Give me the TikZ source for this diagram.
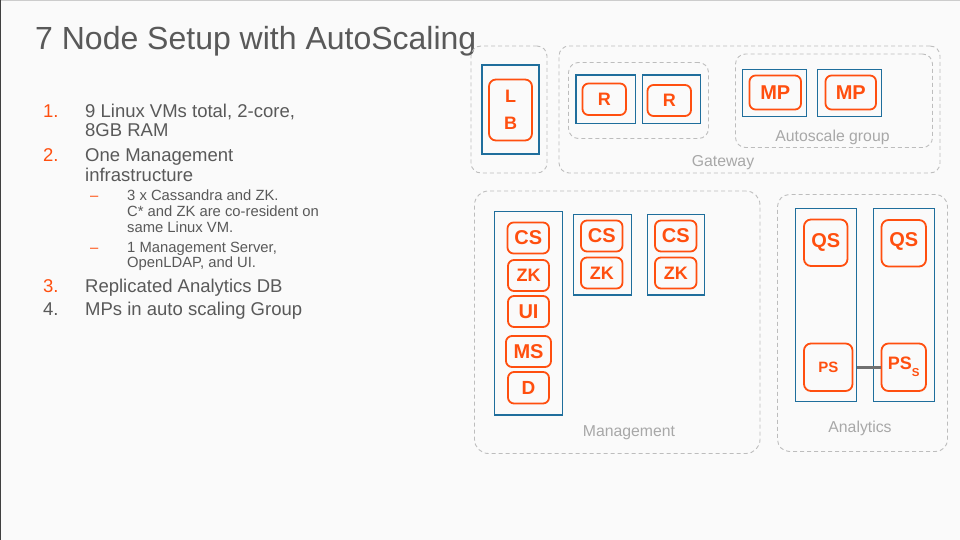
\documentclass[tikz,border=0pt]{standalone}
\usepackage{fontspec}
\setmainfont{Liberation Sans}
\definecolor{bg}{HTML}{FAFAFA}
\definecolor{txt}{HTML}{595959}
\definecolor{org}{HTML}{FF4F0F}
\definecolor{vmblue}{HTML}{1F6E9C}
\definecolor{grp}{HTML}{BDBDBD}
\definecolor{grplbl}{HTML}{A8A8A8}
\definecolor{conn}{HTML}{707070}
\tikzset{
  grpbox/.style={draw=grp, line width=0.9pt, dash pattern=on 4pt off 3pt, rounded corners=10pt, inner sep=0pt},
  vmbox/.style={draw=vmblue, line width=1.2pt, inner sep=0pt},
  svc/.style={draw=org, line width=1.8pt, rounded corners=6pt, inner sep=0pt, text=org, font=\bfseries\fontsize{20}{20}\selectfont},
  svcs/.style={svc, font=\bfseries\fontsize{18}{18}\selectfont},
  grplabel/.style={text=grplbl, font=\fontsize{15.8}{16}\selectfont, anchor=base, inner sep=0pt},
  mainline/.style={text=txt, font=\fontsize{18.5}{20}\selectfont, anchor=base west, inner sep=0pt},
  subline/.style={text=txt, font=\fontsize{14.8}{16}\selectfont, anchor=base west, inner sep=0pt},
  numorg/.style={mainline, text=org},
  dashorg/.style={subline, text=org},
}
\newcommand{\bx}[4]{minimum width=#3pt, minimum height=#4pt}
\begin{document}
\begin{tikzpicture}[x=1pt, y=-1pt]
\fill[bg] (0,0) rectangle (960,540);
\useasboundingbox (0,0) rectangle (960,540);
\draw[line width=1pt, draw=black!20] (0,0.5) -- (960,0.5);
\draw[line width=1.2pt, draw=black!75] (0.6,0) -- (0.6,540);

% title
\node[text=txt, font=\fontsize{32}{34}\selectfont, anchor=base west, inner sep=0pt] (title) at (35,50) {7 Node Setup with AutoScaling};

% list
\node[numorg] (n1) at (43,117.5) {1.};
\node[mainline] (l1a) at (85,117.5) {9 Linux VMs total, 2-core,};
\node[mainline] (l1b) at (85,137) {8GB RAM};
\node[numorg] (n2) at (43,161.5) {2.};
\node[mainline] (l2a) at (85,161.5) {One Management};
\node[mainline] (l2b) at (85,181.5) {infrastructure};
\node[dashorg] (d1) at (90,200.5) {–};
\node[subline] (s1a) at (127,200.5) {3 x Cassandra and ZK.};
\node[subline] (s1b) at (127,216.5) {C* and ZK are co-resident on};
\node[subline] (s1c) at (127,232.5) {same Linux VM.};
\node[dashorg] (d2) at (90,252.5) {–};
\node[subline] (s2a) at (127,252.5) {1 Management Server,};
\node[subline] (s2b) at (127,267.5) {OpenLDAP, and UI.};
\node[numorg] (n3) at (43,292.5) {3.};
\node[mainline] (l3) at (85,292.5) {Replicated Analytics DB};
\node[mainline] (n4) at (43,315) {4.};
\node[mainline] (l4) at (85,315) {MPs in auto scaling Group};

% LB
\node[grpbox, minimum width=76pt, minimum height=127pt] (lbgrp) at (509,109.5) {};
\node[vmbox, minimum width=57pt, minimum height=89pt] (lbvm) at (510.5,109.5) {};
\node[svcs, rounded corners=7pt, minimum width=43pt, minimum height=61pt, align=center, font=\bfseries\fontsize{18}{27}\selectfont] (lb) at (510.5,110) {L\\B};

% Gateway
\node[grpbox, minimum width=381pt, minimum height=127pt] (gw) at (749.5,109.5) {};
\node[grplabel] (gwl) at (723,166.5) {Gateway};
\node[grpbox, minimum width=140pt, minimum height=76pt] (rgrp) at (638.5,100.5) {};
\node[vmbox, minimum width=59.5pt, minimum height=48.5pt] (rvm1) at (605.75,99.25) {};
\node[vmbox, minimum width=58pt, minimum height=48.5pt] (rvm2) at (671.5,99.25) {};
\node[svcs, minimum width=43.5pt, minimum height=31.5pt] (r1) at (604.25,99.25) {R};
\node[svcs, minimum width=43.5pt, minimum height=31pt] (r2) at (669.25,100.5) {R};
\node[grpbox, minimum width=197pt, minimum height=93.5pt] (asg) at (834,100.75) {};
\node[grplabel] (asgl) at (832.5,141.5) {Autoscale group};
\node[vmbox, minimum width=64pt, minimum height=47pt] (mpvm1) at (774.5,93) {};
\node[vmbox, minimum width=64pt, minimum height=47pt] (mpvm2) at (849.5,93) {};
\node[svc, minimum width=51.5pt, minimum height=34pt] (mp1) at (775.25,92.5) {MP};
\node[svc, minimum width=50.5pt, minimum height=34pt] (mp2) at (850.75,92.5) {MP};

% Management
\node[grpbox, rounded corners=14pt, minimum width=285.5pt, minimum height=262.5pt] (mgmt) at (617.25,322.25) {};
\node[grplabel] (mgmtl) at (629,436.5) {Management};
\node[vmbox, minimum width=68pt, minimum height=203.5pt] (mvm1) at (528.5,313.25) {};
\node[svc, minimum width=41.5pt, minimum height=31pt] (cs1) at (528.25,238) {CS};
\node[svcs, minimum width=41pt, minimum height=31pt] (zk1) at (528.5,275.5) {ZK};
\node[svc, minimum width=41pt, minimum height=31pt] (ui) at (528.5,311.5) {UI};
\node[svc, minimum width=45pt, minimum height=31pt] (ms) at (528.5,351.5) {MS};
\node[svcs, minimum width=41pt, minimum height=31.5pt, font=\bfseries\fontsize{19}{19}\selectfont] (dd) at (528.5,387.75) {D};
\node[vmbox, minimum width=58pt, minimum height=80.5pt] (mvm2) at (602.5,254.75) {};
\node[svc, minimum width=41.5pt, minimum height=31pt] (cs2) at (601.75,236) {CS};
\node[svcs, minimum width=41.5pt, minimum height=31pt] (zk2) at (601.75,273) {ZK};
\node[vmbox, minimum width=57pt, minimum height=80.5pt] (mvm3) at (676,254.75) {};
\node[svc, minimum width=41.5pt, minimum height=31pt] (cs3) at (675.75,236) {CS};
\node[svcs, minimum width=41.5pt, minimum height=31pt] (zk3) at (675.75,273) {ZK};

% Analytics
\node[grpbox, rounded corners=12pt, minimum width=170pt, minimum height=257pt] (an) at (862.5,323) {};
\node[grplabel] (anl) at (860,432) {Analytics};
\node[vmbox, minimum width=61pt, minimum height=193pt] (avm1) at (826,305) {};
\node[vmbox, minimum width=61pt, minimum height=193pt] (avm2) at (904,305) {};
\node[svc, rounded corners=7pt, minimum width=43.5pt, minimum height=46.5pt] (qs1) at (825.75,242.75) {QS};
\node[svc, rounded corners=7pt, minimum width=44.5pt, minimum height=46.5pt] (qs2) at (903.75,243.25) {\raisebox{7pt}{QS}};
\node[svc, rounded corners=7pt, minimum width=48.5pt, minimum height=47.5pt, font=\bfseries\fontsize{15}{15}\selectfont] (ps1) at (828.25,367.25) {PS};
\node[svc, rounded corners=7pt, minimum width=44.5pt, minimum height=47.5pt, font=\bfseries\fontsize{18}{18}\selectfont] (ps2) at (903.75,367.25) {\raisebox{3pt}{PS\raisebox{-7pt}{\fontsize{11.5}{11.5}\selectfont S}}};
\draw[conn, line width=2.5pt] (avm1.east |- ps1.east) -- (ps2.west);
\end{tikzpicture}
\end{document}
